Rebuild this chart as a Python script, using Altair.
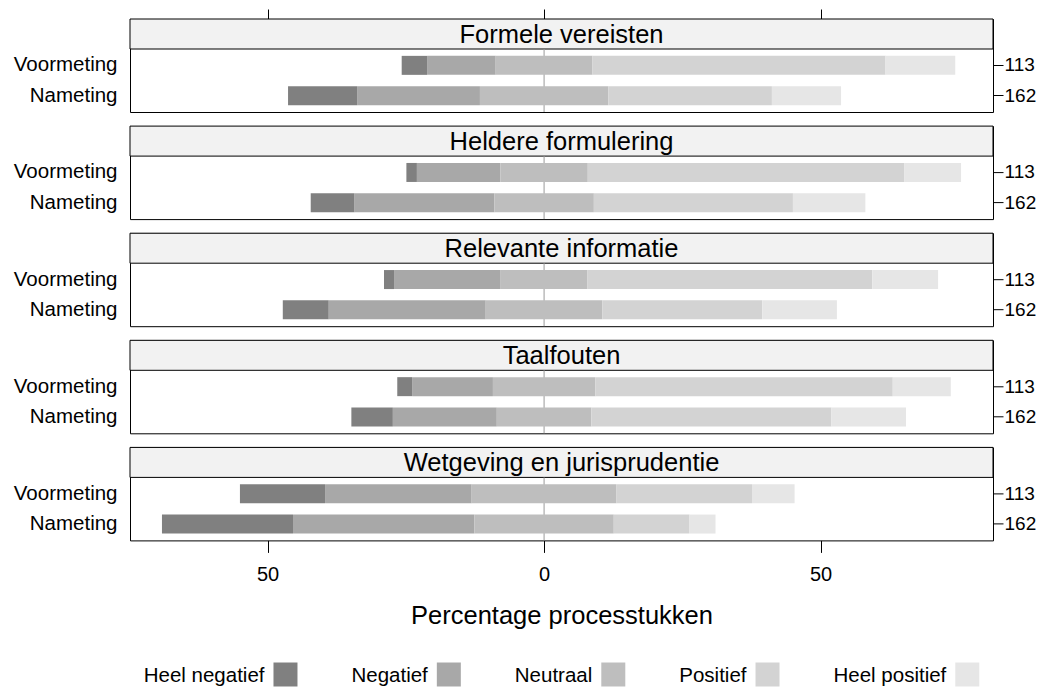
import altair as alt
import pandas as pd

items = ["Formele vereisten", "Heldere formulering", "Relevante informatie",
         "Taalfouten", "Wetgeving en jurisprudentie"]
measures = ["Voormeting", "Nameting"]
n_labels = ["113", "162"]
categories = ["Heel negatief", "Negatief", "Neutraal", "Positief", "Heel positief"]
colors = ["#808080", "#A8A8A8", "#BEBEBE", "#D3D3D3", "#E6E6E6"]

# percentages per item: [Voormeting, Nameting]
heel_neg = [[4.6, 12.5], [1.9, 7.9], [1.9, 8.3], [2.7, 7.5], [15.4, 23.7]]
negatief = [[12.4, 22.2], [15.1, 25.3], [19.2, 28.4], [14.6, 18.8], [26.5, 32.8]]
neutraal = [[17.5, 23.2], [15.8, 18.0], [15.7, 21.1], [18.5, 17.1], [26.2, 25.2]]
positief = [[53.0, 29.6], [57.2, 36.0], [51.5, 28.9], [53.8, 43.4], [24.5, 13.7]]
heel_pos = [[12.6, 12.5], [10.3, 13.1], [11.9, 13.5], [10.5, 13.5], [7.7, 4.7]]

FONT = "Liberation Sans"
W = 863
SH = 30   # strip height
BH = 63   # panel body height
H = SH + BH

rows = []
for i, item in enumerate(items):
    for j, m in enumerate(measures):
        hn, ng, nu, ps, hp = (heel_neg[i][j], negatief[i][j], neutraal[i][j],
                              positief[i][j], heel_pos[i][j])
        half = nu / 2.0
        edge = -half
        for cat, v in [(categories[1], ng), (categories[0], hn)]:
            rows.append(dict(item=item, measure=m, n=n_labels[j], cat=cat,
                             start=edge - v, end=edge))
            edge -= v
        rows.append(dict(item=item, measure=m, n=n_labels[j], cat=categories[2],
                         start=-half, end=half))
        edge = half
        for cat, v in [(categories[3], ps), (categories[4], hp)]:
            rows.append(dict(item=item, measure=m, n=n_labels[j], cat=cat,
                             start=edge, end=edge + v))
            edge += v
df = pd.DataFrame(rows)

lo, hi = df["start"].min(), df["end"].max()
ext = 0.04 * (hi - lo)
xs = alt.Scale(domain=[lo - ext, hi + ext], nice=False, zero=False)
cscale = alt.Scale(domain=categories, range=colors)


def panel(i):
    d = df[df["item"] == items[i]]
    one = pd.DataFrame({"item": [items[i]]})
    if i == 0:
        xaxis = alt.Axis(orient="top", values=[-50, 0, 50], labels=False, domain=False,
                         tickSize=10, grid=False, title=None, tickColor="black")
    elif i == len(items) - 1:
        xaxis = alt.Axis(values=[-50, 0, 50], labelExpr="'' + abs(datum.value)",
                         title="Percentage processtukken", tickSize=12, labelPadding=12,
                         titlePadding=19, labelFontSize=20, titleFontSize=25.5,
                         domain=False, grid=False, tickColor="black")
    else:
        xaxis = None

    strip_box = alt.Chart(one).mark_rect(
        fill="#F2F2F2", stroke="black", strokeWidth=1
    ).encode(x=alt.value(0), x2=alt.value(W), y=alt.value(0), y2=alt.value(SH))
    strip_txt = alt.Chart(one).mark_text(
        fontSize=25.5, font=FONT, color="black", baseline="middle", align="center"
    ).encode(text="item:N", x=alt.value(W / 2), y=alt.value(SH / 2 + 1))
    zero = alt.Chart(one).mark_rule(color="#9A9A9A", strokeWidth=1).encode(
        x=alt.X(datum=0, scale=xs, axis=xaxis), y=alt.value(SH), y2=alt.value(H))
    bars = alt.Chart(d).mark_bar(size=19).encode(
        x=alt.X("start:Q", scale=xs, axis=xaxis),
        x2="end:Q",
        y=alt.Y("measure:N", sort=measures,
                scale=alt.Scale(type="band", domain=measures, range=[SH, H],
                                paddingInner=0, paddingOuter=0.04),
                axis=alt.Axis(title=None, ticks=False, domain=False, labelPadding=13,
                              labelFontSize=20.5, labelColor="black")),
        color=alt.Color("cat:N", scale=cscale, legend=None),
    )
    right = alt.Chart(d).mark_point(opacity=0).encode(
        y=alt.Y("n:N", sort=n_labels,
                scale=alt.Scale(type="band", domain=n_labels, range=[SH, H],
                                paddingInner=0, paddingOuter=0.04),
                axis=alt.Axis(orient="right", title=None, tickSize=10, labelPadding=1,
                              labelFontSize=19, domain=False, tickColor="black",
                              labelColor="black")),
    )
    return alt.layer(strip_box, strip_txt, zero, bars, right).resolve_scale(
        y="independent").properties(width=W, height=H)


panel_stack = alt.vconcat(*[panel(i) for i in range(len(items))],
                          spacing=12.1).resolve_scale(x="independent")

# legend built by hand (label to the left of its square), laid out from text widths
LEG_FS = 20.5
adv = {"H": 722, "e": 556, "l": 222, " ": 278, "n": 556, "g": 556, "a": 556,
       "t": 278, "i": 222, "f": 278, "N": 722, "u": 556, "r": 333, "P": 667,
       "o": 556, "s": 500, "p": 556}
sq = 24
gap_txt = 9
col_gap = 54
widths = [sum(adv.get(ch, 556) for ch in c) / 1000.0 * LEG_FS for c in categories]
total = sum(w + gap_txt + sq for w in widths) + col_gap * (len(categories) - 1)
pos = []
cur = W / 2 - total / 2
for w in widths:
    pos.append(cur + w + gap_txt + sq / 2)
    cur += w + gap_txt + sq + col_gap
leg_df = pd.DataFrame({"cat": categories, "pos": pos})
lscale = alt.Scale(domain=[0, W], nice=False, zero=False)
leg_sq = alt.Chart(leg_df).mark_square(size=sq * sq, opacity=1).encode(
    x=alt.X("pos:Q", scale=lscale, axis=None),
    y=alt.value(10),
    color=alt.Color("cat:N", scale=cscale, legend=None),
)
leg_tx = alt.Chart(leg_df).mark_text(
    align="right", baseline="middle", dx=-(sq / 2 + gap_txt), fontSize=LEG_FS, font=FONT,
    color="black",
).encode(x=alt.X("pos:Q", scale=lscale, axis=None), y=alt.value(11), text="cat:N")
legend_chart = alt.layer(leg_sq, leg_tx).properties(
    width=W, height=20, view=alt.ViewBackground(stroke="transparent"))

chart = alt.vconcat(panel_stack, legend_chart, spacing=31.5).resolve_scale(
    x="independent"
).properties(
    padding={"left": 4, "right": 0, "top": 0, "bottom": 0}
).configure(font=FONT).configure_view(stroke="black", strokeWidth=1).configure_axis(
    labelFont=FONT, titleFont=FONT, labelColor="black", titleColor="black",
    titleFontWeight="normal", tickColor="black", grid=False
)

chart.save("out.html", embed_options={"renderer": "svg", "actions": False})
